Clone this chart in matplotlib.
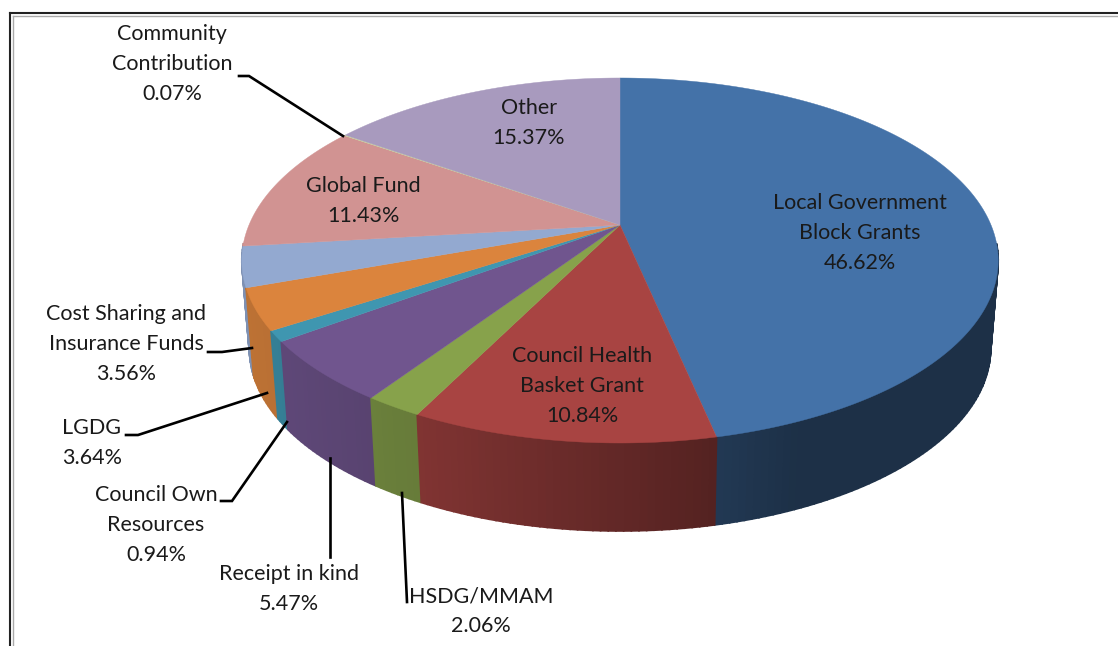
import matplotlib

matplotlib.use("Agg")
import matplotlib.pyplot as plt
import numpy as np

plt.rcParams["font.family"] = ["Lato", "DejaVu Sans"]

names = [
    "Local Government\nBlock Grants",
    "Council Health\nBasket Grant",
    "HSDG/MMAM",
    "Receipt in kind",
    "Council Own\nResources",
    "LGDG",
    "Cost Sharing and\nInsurance Funds",
    "Global Fund",
    "Community\nContribution",
    "Other",
]
shares = [46.62, 10.84, 2.06, 5.47, 0.94, 3.64, 3.56, 11.43, 0.07, 15.37]
colors = [
    "#4472A8", "#A84442", "#87A24B", "#70558E", "#3F96B0",
    "#DB843D", "#93A9D0", "#D19392", "#C9D6A0", "#A89ABE",
]

# label centres in picture pixels, same order as names
label_x = [860, 582, 481, 289, 156, 92, 126, 363, 172, 529]
label_y = [233, 386, 611, 589, 525, 443, 344, 201, 64, 123]

# leader polylines in picture pixels
leaders = [
    ([208, 222, 252], [352, 352, 348]),
    ([126, 138, 267], [435, 435, 393]),
    ([221, 232, 287], [501, 501, 422]),
    ([330, 330], [458, 557]),
    ([402, 407], [493, 602]),
    ([239, 249, 343], [76, 76, 136]),
]

# pie projection: apex, half sizes, perspective, wall height
CX, CY = 620, 225
BX, BY = 371, 175.6
PERSP = 0.1945
DEPTH = 88
BASE_SCALE = 0.98


def rim(theta):
    w = 1 + PERSP * np.cos(theta)
    x = CX + BX * np.sin(theta) / w
    y = CY - BY * np.cos(theta) / w
    return x, y


def base(theta):
    x, y = rim(theta)
    return CX + (x - CX) * BASE_SCALE, y + DEPTH


def shade(color, factor):
    rgb = np.array(matplotlib.colors.to_rgb(color))
    return tuple(rgb * factor)


fig = plt.figure(figsize=(11.18, 6.46), dpi=100)
ax = fig.add_axes([0, 0, 1, 1])
ax.set_xlim(0, 1118)
ax.set_ylim(646, 0)
ax.axis("off")

edges = np.radians(np.concatenate([[0], np.cumsum(shares)]) * 3.6)

# walls, back to front, cut in small pieces for the shading
pieces = []
for color, start, stop in zip(colors, edges[:-1], edges[1:]):
    steps = np.linspace(start, stop, max(2, int(np.degrees(stop - start)) + 2))
    for t0, t1 in zip(steps[:-1], steps[1:]):
        if np.cos((t0 + t1) / 2) < -0.1:
            pieces.append((t0, t1, color))
pieces.sort(key=lambda piece: -np.cos((piece[0] + piece[1]) / 2))
for t0, t1, color in pieces:
    x0, y0 = rim(t0)
    x1, y1 = rim(t1)
    x2, y2 = base(t1)
    x3, y3 = base(t0)
    factor = np.interp((x0 + x1) / 2, [250, 420, 715, 800], [0.86, 0.76, 0.5, 0.42])
    ax.fill(
        [x0, x1, x2, x3], [y0, y1, y2, y3],
        facecolor=shade(color, factor), edgecolor=shade(color, factor),
        linewidth=1.2, zorder=2,
    )

# top face
for color, start, stop in zip(colors, edges[:-1], edges[1:]):
    steps = np.linspace(start, stop, max(3, int(np.degrees(stop - start)) * 2))
    x, y = rim(steps)
    ax.fill(
        np.concatenate([[CX], x]), np.concatenate([[CY], y]),
        color=color, linewidth=0.3, zorder=3,
    )

for xs, ys in leaders:
    ax.plot(xs, ys, color="black", linewidth=1.9, solid_joinstyle="miter", zorder=4)

for name, share, x, y in zip(names, shares, label_x, label_y):
    ax.text(
        x, y, f"{name}\n{share:.2f}%",
        ha="center", va="center", fontsize=15.5, color="#1a1a1a",
        linespacing=1.6, zorder=5,
    )

# double frame line, top and left only
ax.plot([10, 10], [646, 13], color="#222222", linewidth=1.5, zorder=1)
ax.plot([10, 1118], [13, 13], color="#222222", linewidth=1.5, zorder=1)
ax.plot([12.5, 12.5], [646, 15.5], color="#aaaaaa", linewidth=1.0, zorder=1)
ax.plot([12.5, 1118], [15.5, 15.5], color="#aaaaaa", linewidth=1.0, zorder=1)

fig.savefig("out.png", dpi=100)
